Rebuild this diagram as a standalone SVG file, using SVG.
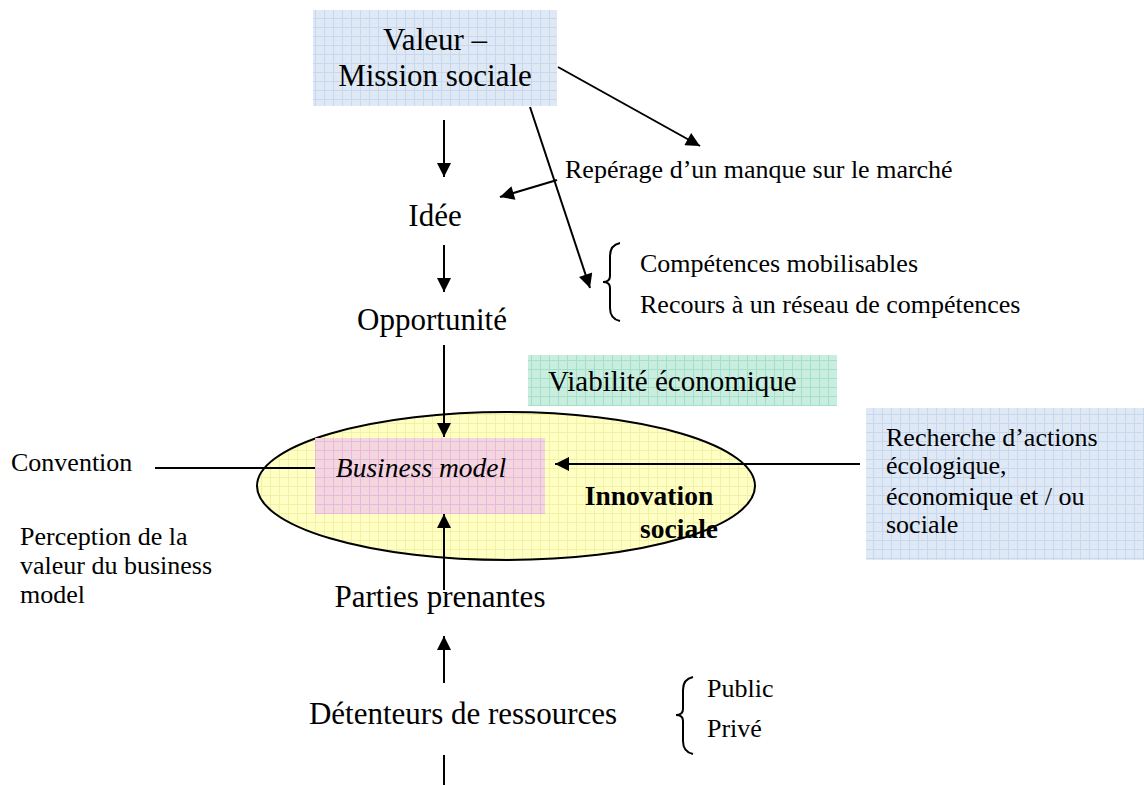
<svg xmlns="http://www.w3.org/2000/svg" width="1144" height="785" viewBox="0 0 1144 785">
<defs>
<style>
.t{font-family:"Liberation Serif","Times New Roman",serif;fill:#000}
.big{font-size:31px}
.sm{font-size:26px}
.ln{stroke:#000;stroke-width:2;fill:none}
</style>
<pattern id="gBlue" width="9" height="9" patternUnits="userSpaceOnUse"><rect width="9" height="9" fill="#dfe9f6"/><path d="M0 0.5H9M0.5 0V9" stroke="#c7d7ee" stroke-width="1"/></pattern>
<pattern id="gGreen" width="9" height="9" patternUnits="userSpaceOnUse"><rect width="9" height="9" fill="#c9eee0"/><path d="M0 0.5H9M0.5 0V9" stroke="#a3dfc9" stroke-width="1"/></pattern>
<pattern id="gPink" width="9" height="9" patternUnits="userSpaceOnUse"><rect width="9" height="9" fill="#f4d6df"/><path d="M0 0.5H9M0.5 0V9" stroke="#e8b9dc" stroke-width="1"/></pattern>
<pattern id="gYellow" width="9" height="9" patternUnits="userSpaceOnUse"><rect width="9" height="9" fill="#ffffc4"/><path d="M0 0.5H9M0.5 0V9" stroke="#f1f1a8" stroke-width="1"/></pattern>
<marker id="ah" viewBox="0 0 10 10" refX="10" refY="5" markerWidth="15" markerHeight="14" markerUnits="userSpaceOnUse" orient="auto"><path d="M0 0L10 5L0 10Z" fill="#000"/></marker>
</defs>

<g id="valeur">
<rect x="313" y="10" width="244" height="96" fill="url(#gBlue)"/>
<text class="t big" x="435" y="50" text-anchor="middle">Valeur –</text>
<text class="t big" x="435" y="86" text-anchor="middle">Mission sociale</text>
</g>

<g id="idee"><text class="t big" x="435" y="226" text-anchor="middle">Idée</text></g>
<g id="opportunite"><text class="t big" x="432" y="330" text-anchor="middle">Opportunité</text></g>

<g id="reperage"><text class="t sm" x="565" y="178" font-size="26.5">Repérage d’un manque sur le marché</text></g>

<g id="competences">
<path class="ln" d="M620 243Q610 245 610 256V276Q610 282 603 282Q610 282 610 288V308Q610 319 620 321" stroke-width="1.5"/>
<text class="t sm" x="640" y="272">Compétences mobilisables</text>
<text class="t sm" x="640" y="313">Recours à un réseau de compétences</text>
</g>

<g id="viabilite">
<rect x="528" y="355" width="309" height="51" fill="url(#gGreen)"/>
<text class="t" x="548" y="391" font-size="29">Viabilité économique</text>
</g>

<g id="innovation">
<ellipse cx="506" cy="486" rx="249" ry="74" fill="url(#gYellow)" stroke="#000" stroke-width="2"/>
</g>

<g id="business-model">
<rect x="315" y="438" width="230" height="76" fill="url(#gPink)"/>
<text class="t" x="421" y="477" text-anchor="middle" font-size="27.5" font-style="italic">Business model</text>
</g>

<g id="innovation-label">
<text class="t" x="649" y="505" text-anchor="middle" font-size="27.5" font-weight="bold">Innovation</text>
<text class="t" x="718" y="538" text-anchor="end" font-size="27.5" font-weight="bold">sociale</text>
</g>

<g id="recherche">
<rect x="866" y="408" width="278" height="152" fill="url(#gBlue)"/>
<text class="t sm" x="886" y="446">Recherche d’actions</text>
<text class="t sm" x="886" y="474">écologique,</text>
<text class="t sm" x="886" y="505">économique et / ou</text>
<text class="t sm" x="886" y="533">sociale</text>
</g>

<g id="convention"><text class="t sm" x="11" y="471">Convention</text></g>

<g id="perception">
<text class="t sm" x="20" y="545">Perception de la</text>
<text class="t sm" x="20" y="574">valeur du business</text>
<text class="t sm" x="20" y="603">model</text>
</g>

<g id="parties"><text class="t big" x="440" y="607" text-anchor="middle">Parties prenantes</text></g>

<g id="detenteurs"><text class="t big" x="463" y="724" text-anchor="middle">Détenteurs de ressources</text></g>

<g id="public-prive">
<path class="ln" d="M693 677Q683 679 683 690V709Q683 715 676 715Q683 715 683 721V741Q683 752 693 754" stroke-width="1.5"/>
<text class="t sm" x="707" y="697">Public</text>
<text class="t sm" x="707" y="737">Privé</text>
</g>

<g id="connectors">
<line class="ln" x1="444" y1="120" x2="444" y2="177" marker-end="url(#ah)"/>
<line class="ln" x1="444" y1="245" x2="444" y2="292" marker-end="url(#ah)"/>
<line class="ln" x1="444" y1="345" x2="444" y2="437" marker-end="url(#ah)"/>
<line class="ln" x1="558" y1="67" x2="700" y2="146" marker-end="url(#ah)"/>
<line class="ln" x1="530" y1="107" x2="590" y2="288" marker-end="url(#ah)"/>
<line class="ln" x1="557" y1="180" x2="500" y2="197" marker-end="url(#ah)"/>
<line class="ln" x1="860" y1="464" x2="555" y2="464" marker-end="url(#ah)"/>
<line class="ln" x1="155" y1="468" x2="315" y2="468"/>
<line class="ln" x1="444" y1="590" x2="444" y2="514" marker-end="url(#ah)"/>
<line class="ln" x1="444" y1="683" x2="444" y2="636" marker-end="url(#ah)"/>
<line class="ln" x1="444" y1="755" x2="444" y2="785"/>
</g>
</svg>
